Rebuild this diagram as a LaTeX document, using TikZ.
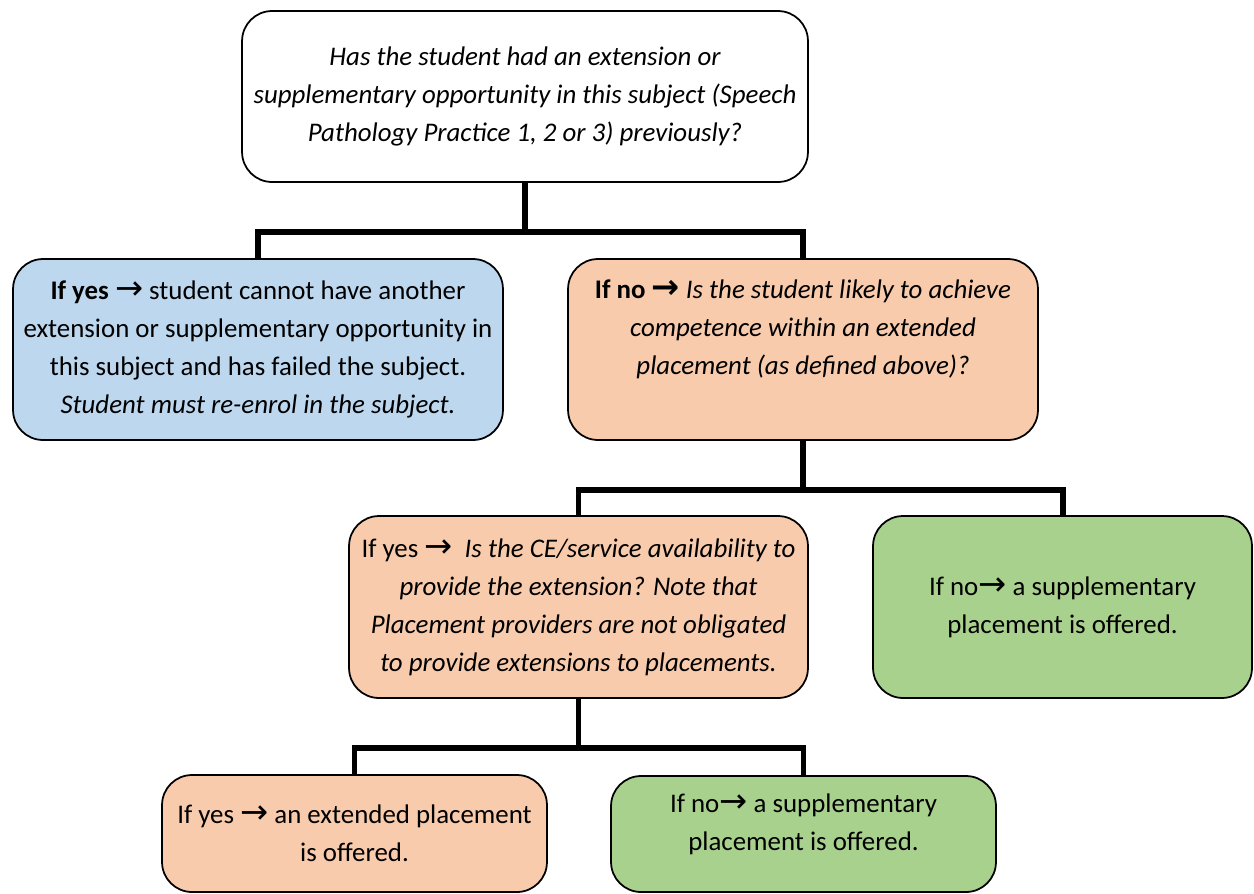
\documentclass[tikz,border=0pt]{standalone}
\usepackage{fontspec}
\setmainfont{Carlito}
\newfontfamily\arrowfont{DejaVu Sans}
\newcommand{\toarr}{\scalebox{1.25}{\arrowfont\char"2192}}

\definecolor{boxblue}{HTML}{BDD7EE}
\definecolor{boxorange}{HTML}{F8CBAD}
\definecolor{boxgreen}{HTML}{A9D18E}

\tikzset{
  box/.style={draw=black, line width=1pt, rounded corners=0.6cm, align=center,
    font=\fontsize{15.3}{21.6}\selectfont},
  conn/.style={line width=3.4pt},
}

\begin{document}
\begin{tikzpicture}[x=0.02cm, y=-0.02cm]
\useasboundingbox (0,0) rectangle (1254,893);

% first question
\node[box, fill=white, font=\fontsize{15.3}{21.6}\selectfont\itshape,
  minimum width=11.32cm, minimum height=3.42cm] (q0) at (525,96.5)
  {Has the student had an extension or\\
   supplementary opportunity in this subject (Speech\\
   Pathology Practice 1, 2 or 3) previously?};

% second row
\node[box, fill=boxblue, minimum width=9.8cm, minimum height=3.62cm] (yes1) at (258,349.5)
  {\textbf{If yes} \toarr{} student cannot have another\\
   extension or supplementary opportunity in\\
   this subject and has failed the subject.\\
   \textit{Student must re-enrol in the subject.}};
\node[box, fill=boxorange, minimum width=9.4cm, minimum height=3.62cm] (no1) at (803,349.5)
  {\textbf{If no \toarr{}} \textit{Is the student likely to achieve}\\
   \textit{competence within an extended}\\
   \textit{placement (as defined above)?}\\[3.4pt]\mbox{}};

% third row
\node[box, fill=boxorange, minimum width=9.18cm, minimum height=3.64cm] (yes2) at (578.5,607)
  {If yes \toarr{}\ \ \textit{Is the CE/service availability to}\\
   \textit{provide the extension? Note that}\\
   \textit{Placement providers are not obligated}\\
   \textit{to provide extensions to placements.}};
\node[box, fill=boxgreen, minimum width=7.58cm, minimum height=3.64cm] (no2) at (1062.5,607)
  {If no\toarr{} a supplementary\\
   placement is offered.};

% last row
\node[box, fill=boxorange, minimum width=7.7cm, minimum height=2.34cm] (yes3) at (354.5,833.5)
  {If yes \toarr{} an extended placement\\
   is offered.};
\node[box, fill=boxgreen, minimum width=7.7cm, minimum height=2.32cm] (no3) at (803.5,834)
  {If no\toarr{} a supplementary\\
   placement is offered.\\[-8pt]\mbox{}};

% connectors
\coordinate (j1) at (525,232);
\coordinate (j2) at (803,490);
\coordinate (j3) at (578.5,748);

\draw[conn] (q0.south) -- (j1);
\draw[conn] (yes1.north) |- (j1) -| (no1.north);
\draw[conn] (no1.south) -- (j2);
\draw[conn] (yes2.north) |- (j2) -| (no2.north);
\draw[conn] (yes2.south) -- (j3);
\draw[conn] (yes3.north) |- (j3) -| (no3.north);
\end{tikzpicture}
\end{document}
